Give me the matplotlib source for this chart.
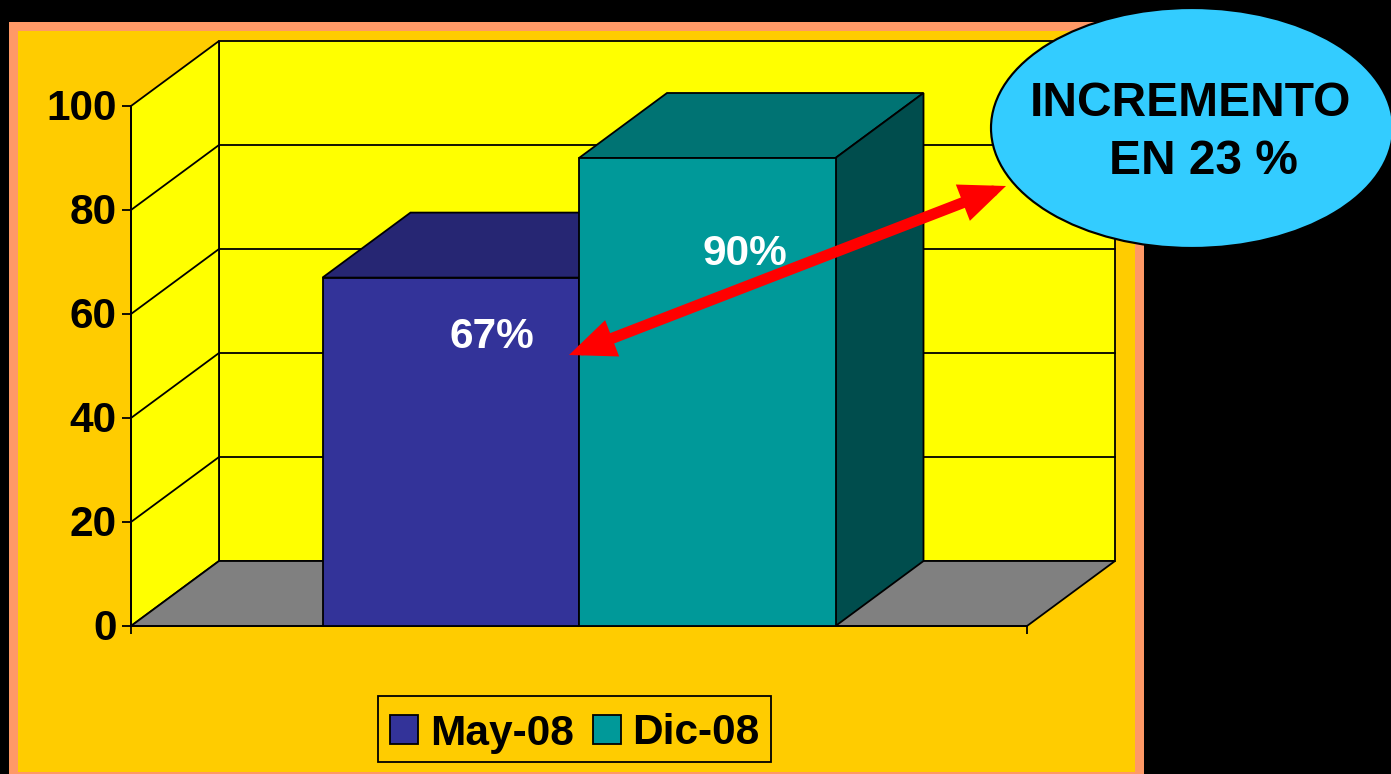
import matplotlib
matplotlib.use("Agg")
import matplotlib.pyplot as plt
from matplotlib.patches import Polygon, Rectangle, Ellipse, Patch
from matplotlib.transforms import Affine2D, ScaledTranslation

series_names = ["May-08", "Dic-08"]
series_values = [67, 90]
value_labels = ["67%", "90%"]
y_ticks = [0, 20, 40, 60, 80, 100]

front_colors = ["#333399", "#009999"]
top_colors = ["#262673", "#007373"]
side_colors = ["#1A1A4D", "#004D4D"]

W, H = 1391, 774
plt.rcParams["font.family"] = ["Liberation Sans", "DejaVu Sans"]
plt.rcParams["font.weight"] = "bold"

fig = plt.figure(figsize=(W / 100, H / 100), dpi=100, facecolor="black")
px = Affine2D().scale(1, -1).translate(0, H)

fig.add_artist(Rectangle((9, 22), 1135, 752, transform=px, fc="#FF9966", ec="none", zorder=-3))
fig.add_artist(Rectangle((18, 31), 1117, 740.5, transform=px, fc="#FFCC00", ec="none", zorder=-2))

ax = fig.add_axes([131 / W, 1 - 626 / H, 896 / W, 520 / H])
ax.patch.set_visible(False)
ax.set_xlim(0, 1)
ax.set_ylim(0, 100)

DX = 88 / 896
DY = 12.5
LW = 1.3
EC = "black"


def poly(pts, fc, z):
    ax.add_patch(Polygon(pts, closed=True, fc=fc, ec=EC, lw=LW, zorder=z, clip_on=False, joinstyle="miter"))


# walls and floor
poly([(DX, DY), (1 + DX, DY), (1 + DX, 100 + DY), (DX, 100 + DY)], "#FFFF00", 1)
poly([(0, 0), (DX, DY), (DX, 100 + DY), (0, 100)], "#FFFF00", 1)
poly([(0, 0), (1, 0), (1 + DX, DY), (DX, DY)], "#808080", 1)

for t in y_ticks[1:-1]:
    ax.plot([0, DX, 1 + DX], [t, t + DY, t + DY], color=EC, lw=LW, zorder=1.5, clip_on=False)

# bars
bar_w = 256.5 / 896
for i, (val, fc, tc, sc) in enumerate(zip(series_values, front_colors, top_colors, side_colors)):
    x0 = 0.5 + (i - 1) * bar_w
    x1 = x0 + bar_w
    poly([(x0, val), (x1, val), (x1 + DX, val + DY), (x0 + DX, val + DY)], tc, 3 + i)
    poly([(x1, 0), (x1 + DX, DY), (x1 + DX, val + DY), (x1, val)], sc, 3 + i)
    ax.bar(x0, val, width=bar_w, align="edge", color=fc, edgecolor=EC, linewidth=LW,
           zorder=3.5 + i, clip_on=False, label=series_names[i])

# axes
for s in ("top", "right"):
    ax.spines[s].set_visible(False)
for s in ("left", "bottom"):
    ax.spines[s].set_linewidth(LW)
ax.set_yticks(y_ticks)
ax.set_xticks([0, 1])
ax.set_xticklabels(["", ""])
ax.tick_params(axis="y", labelsize=30.5, length=6.5, width=LW, pad=4)
ax.tick_params(axis="x", length=6, width=LW)
lift = ScaledTranslation(0, 2 / 100, fig.dpi_scale_trans)
for lab in ax.get_yticklabels():
    lab.set_transform(lab.get_transform() + lift)

# legend
fig.add_artist(Rectangle((378, 695.5), 393, 66, transform=px, fc="none", ec=EC, lw=LW, zorder=5))
handles = [Patch(fc=c, ec=EC, lw=LW) for c in front_colors]
leg = ax.legend(handles, series_names, loc="center",
                bbox_to_anchor=(575 / W, 1 - 733.5 / H), bbox_transform=fig.transFigure,
                ncol=2, fontsize=30.5, frameon=False, handlelength=0.66, handleheight=0.66,
                handletextpad=0.28, columnspacing=0.44, borderpad=0.3, borderaxespad=0)

# arrow
ax.annotate("", xy=(1006, H - 186), xytext=(569, H - 355),
            xycoords="figure pixels", textcoords="figure pixels", annotation_clip=False,
            arrowprops=dict(arrowstyle="<|-|>,head_length=19,head_width=8",
                            mutation_scale=1, color="#FF0000", lw=8,
                            shrinkA=0, shrinkB=0, joinstyle="miter"), zorder=8)

# value labels
fig.text(492, 337, value_labels[0], transform=px, color="white", fontsize=30.5, ha="center", va="center", zorder=9)
fig.text(745, 254, value_labels[1], transform=px, color="white", fontsize=30.5, ha="center", va="center", zorder=9)

# callout
fig.add_artist(Ellipse((1192, 128), 402, 240, transform=px, fc="#33CCFF", ec=EC, lw=LW * 1.2, zorder=10))
fig.text(1190, 104, "INCREMENTO", transform=px, color="black", fontsize=34.5, ha="center", va="center", zorder=11)
fig.text(1203, 161, "EN 23 %", transform=px, color="black", fontsize=34.5, ha="center", va="center", zorder=11)

fig.savefig("out.png", dpi=100, facecolor="black")
